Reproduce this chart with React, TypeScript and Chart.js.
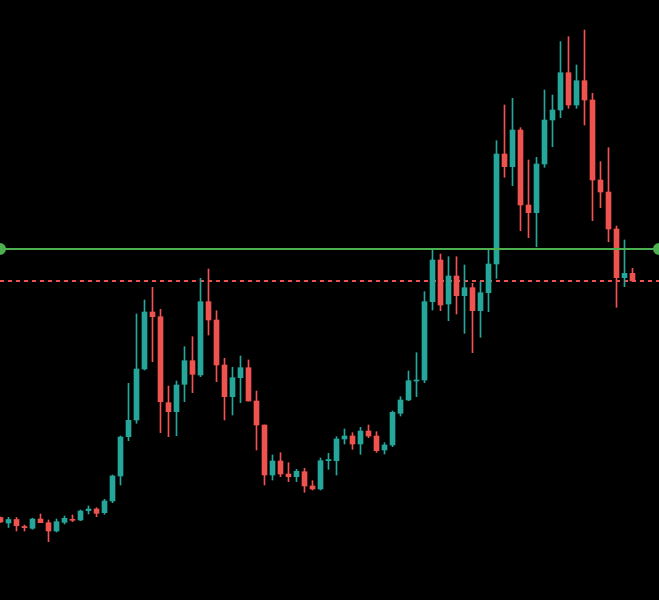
import React, { useEffect, useRef } from "react";
import { Chart, registerables } from "chart.js";

Chart.register(...registerables);

const opens = [82.5, 77, 80.5, 73.5, 71.7, 81, 77.3, 69, 77.7, 80.7, 80, 89.3, 91, 87.3, 99, 124, 163.3, 180, 231, 288, 283.3, 197.3, 188.3, 215.7, 239.3, 225, 298.3, 280, 235, 203.3, 222.3, 232.3, 199, 175, 125, 139, 126, 123.3, 128.3, 114, 111, 139.3, 139.3, 161, 164, 156, 169, 164, 150, 155, 186.7, 200, 219, 220, 298.3, 340, 296, 324, 304.3, 312.3, 289.3, 307.3, 336, 446, 433.3, 470, 395, 387.3, 436, 480, 490, 527.3, 495, 519.3, 500, 420, 408, 371, 322.3, 326.7];
const highs = [83, 82.7, 82.5, 75, 81.7, 86, 80, 81, 84, 85, 90, 94, 92.3, 100.7, 125, 164, 216.7, 286, 300, 312.7, 290.7, 214, 219, 253.3, 263.3, 321.7, 331, 289.3, 241.7, 232.7, 244, 240, 209, 175, 145, 147.3, 137.3, 130.7, 131.7, 119.3, 142, 146.7, 163.3, 171, 167.3, 172.7, 175, 168.3, 157.3, 189, 203.3, 229, 247.3, 308.3, 350, 346, 343.3, 343.3, 335, 316.7, 318.3, 350, 459.3, 495, 501.7, 472.3, 440, 442.7, 510, 505, 558.3, 563.3, 535, 570, 506.7, 438.3, 452.3, 374, 360, 331.7];
const lows = [77.5, 72.5, 69, 69, 70.7, 77.3, 58.3, 68, 76, 78.3, 79.3, 86, 83.3, 85.7, 97.3, 115, 159.3, 176.7, 230, 238.3, 167.3, 163.3, 164.3, 198.3, 207.3, 223.3, 265, 218.3, 180, 185, 197.3, 199, 150, 115, 120, 123.3, 118.3, 118.3, 107.7, 110, 110, 130.7, 125, 156, 150.7, 145.7, 162.3, 147.7, 146, 153.3, 184, 199.3, 203.3, 217.3, 290, 289.3, 279.3, 286, 266.7, 247.3, 262.7, 288.3, 321.7, 422.7, 414.3, 369.3, 362.3, 353.3, 432.7, 453.3, 482.3, 491.7, 491.7, 475, 379.3, 392.3, 358.3, 292.7, 313.3, 319];
const closes = [78, 80.5, 74.3, 72.3, 81, 77.3, 69, 78.3, 81.7, 79.7, 89, 91, 86.7, 99, 124, 163, 179.7, 231, 288, 283.3, 198.3, 188.3, 215, 239.3, 225.7, 298.3, 280, 235, 203.3, 222.3, 232.3, 199, 175, 125, 139, 126, 123.3, 128.7, 114, 111, 139.3, 140.5, 161, 164, 156, 169, 164, 149.3, 155, 187.7, 200, 219.3, 220, 298.3, 340, 295, 324, 304.3, 312.3, 289.3, 307.3, 336, 446, 433.3, 470, 395, 387.3, 436, 480, 490, 527.3, 495, 519.3, 500, 420, 408, 371, 322.3, 326.7, 319];

const resistanceLevel = 351;
const lastPriceLevel = 319;

const X_MIN = -0.0625;
const X_MAX = 82.3125;
const Y_MIN = 0;
const Y_MAX = 600;

const UP = "#26a69a";
const DOWN = "#ef5350";
const LINE_GREEN = "#4caf50";

export default function App() {
  const ref = useRef<HTMLCanvasElement | null>(null);

  useEffect(() => {
    document.body.style.margin = "0";
    document.body.style.background = "#000";
    const canvas = ref.current;
    if (!canvas) return;

    const colors = opens.map((o, i) => (closes[i] >= o ? UP : DOWN));
    const wicks = opens.map((_, i) => ({ x: i, y: [lows[i], highs[i]] }));
    const bodies = opens.map((o, i) => ({
      x: i,
      y: [Math.min(o, closes[i]), Math.max(o, closes[i])],
    }));

    const chart = new Chart(canvas, {
      type: "bar",
      data: {
        datasets: [
          {
            type: "line",
            data: [
              { x: X_MIN, y: resistanceLevel },
              { x: X_MAX, y: resistanceLevel },
            ],
            borderColor: LINE_GREEN,
            borderWidth: 2,
            pointRadius: 5,
            pointBackgroundColor: LINE_GREEN,
            pointBorderColor: LINE_GREEN,
            order: 0,
          } as any,
          {
            type: "bar",
            data: bodies as any,
            backgroundColor: colors,
            barThickness: 5,
            grouped: false,
            borderWidth: 0,
            order: 1,
          } as any,
          {
            type: "bar",
            data: wicks as any,
            backgroundColor: colors,
            barThickness: 1,
            grouped: false,
            borderWidth: 0,
            order: 2,
          } as any,
          {
            type: "line",
            data: [
              { x: X_MIN, y: lastPriceLevel },
              { x: X_MAX, y: lastPriceLevel },
            ],
            borderColor: DOWN,
            borderWidth: 2,
            borderDash: [4, 4],
            pointRadius: 0,
            order: 3,
          } as any,
        ],
      },
      options: {
        responsive: false,
        animation: false,
        devicePixelRatio: 1,
        layout: { padding: 0, autoPadding: false },
        plugins: {
          legend: { display: false },
          tooltip: { enabled: false },
        },
        scales: {
          x: {
            type: "linear",
            min: X_MIN,
            max: X_MAX,
            offset: false,
            display: false,
          },
          y: {
            type: "linear",
            min: Y_MIN,
            max: Y_MAX,
            display: false,
          },
        },
      },
    });
    return () => chart.destroy();
  }, []);

  return (
    <div style={{ width: 659, height: 600, background: "#000" }}>
      <canvas ref={ref} width={659} height={600} style={{ display: "block" }} />
    </div>
  );
}
